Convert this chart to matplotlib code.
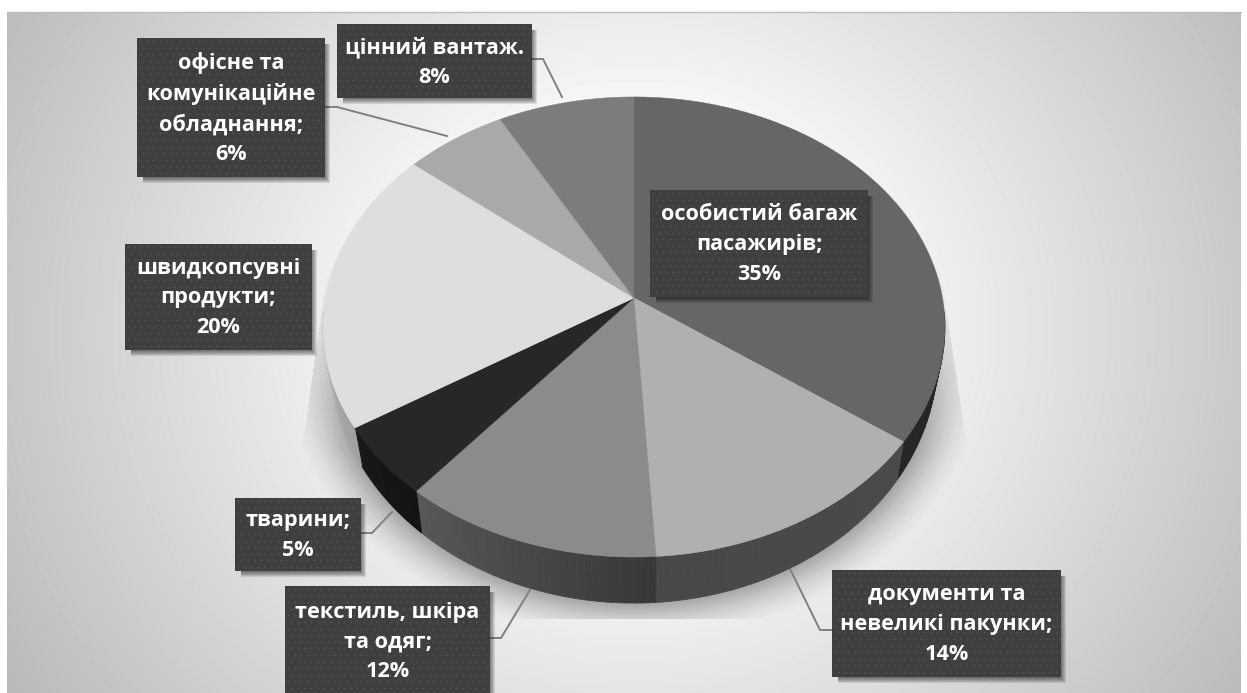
import numpy as np
import matplotlib
matplotlib.use("Agg")
import matplotlib.pyplot as plt
from matplotlib.patches import Polygon, Rectangle
from matplotlib.colors import to_rgb

categories = ["особистий багаж\nпасажирів;", "документи та\nневеликі пакунки;",
              "текстиль, шкіра\nта одяг;", "тварини;", "швидкопсувні\nпродукти;",
              "офісне та\nкомунікаційне\nобладнання;", "цінний вантаж."]
shares = [35, 14, 12, 5, 20, 6, 8]
top_colors = ["#666666", "#b0b0b0", "#8b8b8b", "#272727", "#dedede", "#a9a9a9", "#7c7c7c"]
side_start = ["#1d1d1d", "#4a4a4a", "#383838", "#131313", "#a0a0a0", "#777777", "#666666"]
side_end = ["#262626", "#484848", "#585858", "#181818", "#d4d4d4", "#777777", "#666666"]
boxes = [(650, 190, 868, 297), (832, 570, 1061, 677), (285, 586, 490, 696),
         (235, 498, 361, 571), (125, 244, 312, 350), (137, 38, 325, 177), (337, 24, 532, 98)]
leaders = [None,
           [(832, 630), (820, 630), (790, 569)],
           [(490, 638), (501, 638), (530, 590)],
           [(361, 533), (372, 533), (392, 512)],
           None,
           [(325, 107), (337, 107), (447, 136)],
           [(532, 59), (543, 59), (562, 97)]]

W, H = 1247, 693
fig = plt.figure(figsize=(W / 100, H / 100), dpi=100)
ax = fig.add_axes([0, 0, 1, 1])
ax.set_xlim(0, W)
ax.set_ylim(H, 0)
ax.axis("off")

# background: radial gradient panel
L, T, R, B = 7, 12, 1241, 693
yy, xx = np.mgrid[0:H, 0:W] + 0.5
rad = np.hypot((xx - 634) / 606, (yy - 330) / 560)
bg = 1.0 - 0.21 * np.clip((rad - 0.3) / 0.7, 0, None)
img = np.ones((H, W))
img[T:B, L:R] = bg[T:B, L:R]
ax.imshow(img, cmap="gray", vmin=0, vmax=1, extent=(0, W, H, 0), zorder=0, aspect="auto")
ax.plot([L, R], [T, T], color="#bdbdbd", lw=1, zorder=1)

# projection of the tilted disc
CX, CY, A, Bx, K = 634, 298, 226.4, 308.5, 0.126
def top_pt(theta):
    u, v = np.sin(theta), np.cos(theta)
    d = 1 + K * v
    return CX + Bx * u / d, CY - A * v / d
def bot_pt(theta):
    x, y = top_pt(theta)
    return CX + 0.975 * (x - CX), 603 + 1.064 * (y - 557)

# soft shadow beneath the disc
th = np.linspace(0, 2 * np.pi, 720)
ex, ey = bot_pt(th)
ecx, ecy = ex.mean(), 358
rx, ry = (ex.max() - ex.min()) / 2, (ey.max() - ey.min()) / 2
rr = np.hypot((xx - ecx) / rx, (yy - ecy) / ry)
dist = (rr - 1) * np.minimum(rx, ry) * 1.0
fade = np.clip(1 - dist / 42, 0, 1) ** 1.6
ramp = np.clip((yy - 260) / 190, 0, 1)
alpha = 0.32 * fade * ramp
xl = 323 - (yy - 300) * 0.14
xr = 945 + (yy - 300) * 0.15
alpha[(yy > 619) | (rr < 0.9) | (xx < xl) | (xx > xr)] = 0
sh = np.zeros((H, W, 4))
sh[..., 3] = alpha
ax.imshow(sh, extent=(0, W, H, 0), zorder=1.5, aspect="auto")

# pie built from the shares
edges = np.cumsum([0] + shares) / sum(shares) * 2 * np.pi
for i in range(len(shares)):
    a0, a1 = edges[i], edges[i + 1]
    n = max(int((a1 - a0) / 0.02), 2)
    ts = np.linspace(a0, a1, n + 1)
    c0, c1 = np.array(to_rgb(side_start[i])), np.array(to_rgb(side_end[i]))
    for j in range(n):
        t = np.array([ts[j], ts[j + 1]])
        if np.cos(t).max() > -0.05:
            continue
        tx, ty = top_pt(t)
        bx, by = bot_pt(t)
        col = c0 + (c1 - c0) * j / n
        ax.add_patch(Polygon(np.c_[np.r_[tx, bx[::-1]], np.r_[ty, by[::-1]]],
                             closed=True, fc=col, ec=col, lw=0.6, zorder=2))
for i in range(len(shares)):
    ts = np.linspace(edges[i], edges[i + 1], 200)
    x, y = top_pt(ts)
    ax.add_patch(Polygon(np.c_[np.r_[CX, x], np.r_[CY, y]], closed=True,
                         fc=top_colors[i], ec=top_colors[i], lw=0.3, zorder=3))

# labels
for i, (name, share, box) in enumerate(zip(categories, shares, boxes)):
    x0, y0, x1, y1 = box
    for k in range(6):
        ax.add_patch(Rectangle((x0 + 6, y0 + 6), x1 - x0 - 6 + k, y1 - y0 - 5 + k,
                               fc="black", ec="none", alpha=0.10, zorder=4))
    ax.add_patch(Rectangle((x0, y0), x1 - x0, y1 - y0, fc="#3f3f3f", ec="none", zorder=5))
    gx, gy = np.meshgrid(np.arange(x0 + 3, x1 - 1, 6.6), np.arange(y0 + 3, y1 - 1, 6.6))
    gx = gx.copy()
    gx[1::2] += 3.3
    keep = gx.ravel() < x1 - 1
    ax.scatter(gx.ravel()[keep], gy.ravel()[keep], s=1.6, c="#555555", linewidths=0, zorder=6)
    if leaders[i]:
        p = np.array(leaders[i])
        ax.plot(p[:, 0], p[:, 1], color="#808080", lw=1.4, zorder=1.8 if i in (1, 2, 3) else 3.5,
                solid_joinstyle="miter")
    ax.text((x0 + x1) / 2, (y0 + y1) / 2 + 1, f"{name}\n{share}%", color="white", ha="center", va="center",
            fontsize=15.6, fontweight="bold", family=["Open Sans", "DejaVu Sans"],
            linespacing=1.55, zorder=7)

fig.savefig("out.png", dpi=100)
